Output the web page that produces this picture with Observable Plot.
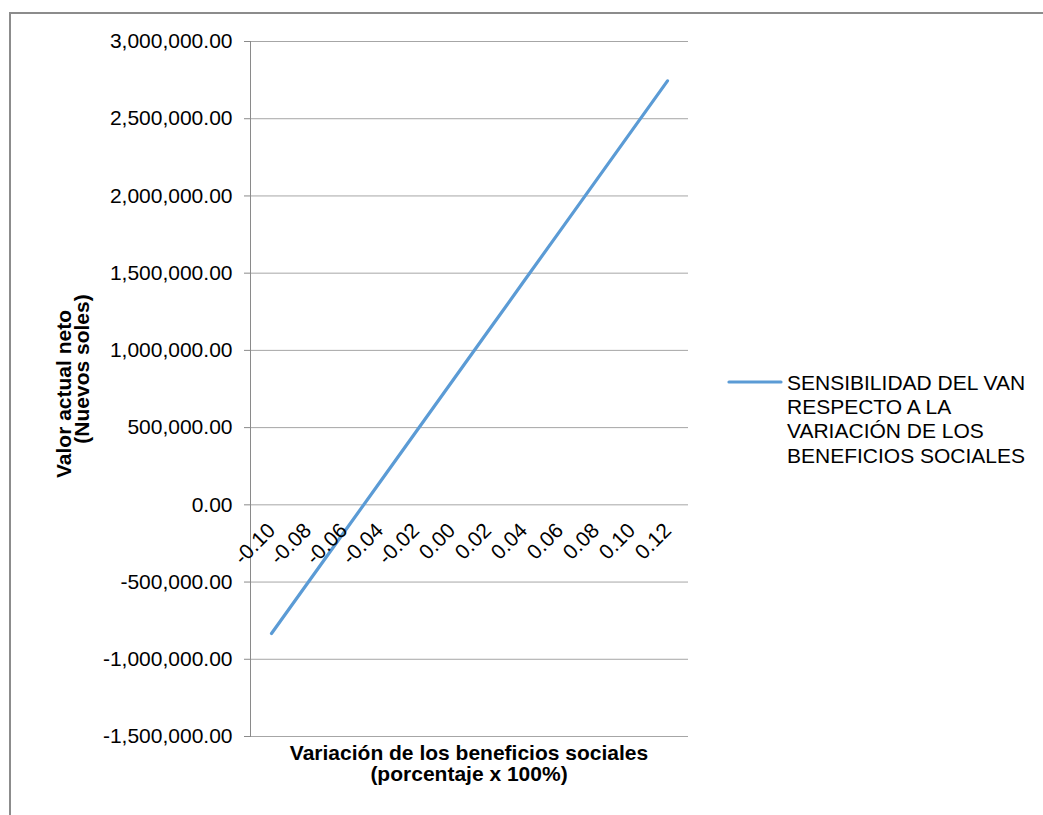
<!DOCTYPE html>
<html>
<head>
<meta charset="utf-8">
<script src="https://cdn.jsdelivr.net/npm/d3@7"></script>
<script src="https://cdn.jsdelivr.net/npm/@observablehq/plot@0.6"></script>
<style>
  html, body { margin: 0; padding: 0; background: #fff; }
  #chart { width: 1043px; height: 815px; overflow: hidden; }
</style>
</head>
<body>
<div id="chart"></div>
<script>
// Variación de los beneficios sociales (categories on the x axis)
const categories = ["-0.10", "-0.08", "-0.06", "-0.04", "-0.02", "0.00",
                    "0.02", "0.04", "0.06", "0.08", "0.10", "0.12"];
// VAN (Nuevos soles) for each variation
const van = [-833000, -507700, -182400, 142900, 468200, 793500,
             1118800, 1444100, 1769400, 2094700, 2420000, 2745300];
// Y axis tick values
const yTicks = [-1500000, -1000000, -500000, 0, 500000, 1000000,
                1500000, 2000000, 2500000, 3000000];

const seriesName = ["SENSIBILIDAD DEL VAN", "RESPECTO A LA",
                    "VARIACIÓN DE LOS", "BENEFICIOS SOCIALES"];
const xTitle = ["Variación de los beneficios sociales", "(porcentaje x 100%)"];
const yTitle = ["Valor actual neto", "(Nuevos soles)"];

const rows = categories.map((c, i) => ({cat: c, van: van[i]}));
const FONT = "'Liberation Sans', Arial, Helvetica, sans-serif";
const LINE = "#5b9bd5";
const fmt = d3.format(",.2f");
const yFormat = d => fmt(d).replace("\u2212", "-");

const chart = Plot.plot({
  width: 1043,
  height: 815,
  marginLeft: 250,
  marginRight: 355,
  marginTop: 41,
  marginBottom: 79,
  style: {fontFamily: FONT, fontSize: "21px", color: "#000", background: "#fff"},
  x: {type: "point", domain: categories, padding: 0.5, axis: null},
  y: {domain: [-1500000, 3000000], axis: null},
  marks: [
    Plot.gridY(yTicks, {stroke: "#a6a6a6", strokeOpacity: 1, strokeWidth: 1}),
    Plot.axisY(yTicks, {
      tickFormat: yFormat,
      tickSize: 6,
      tickPadding: 12,
      stroke: "#8a8a8a",
      fill: "#000",
      fontSize: 21,
      label: null
    }),
    Plot.frame({anchor: "left", stroke: "#8a8a8a"}),
    Plot.line(rows, {
      x: "cat", y: "van",
      stroke: LINE, strokeWidth: 3.2,
      strokeLinecap: "round", strokeLinejoin: "round"
    }),
    // category labels sit next to the zero line, rotated 45°
    Plot.text(categories, {
      x: d => d, y: () => 0,
      text: d => d,
      rotate: -45,
      textAnchor: "end",
      lineAnchor: "bottom",
      dx: 5, dy: 27,
      fontSize: 21,
      fill: "#000"
    })
  ]
});

document.getElementById("chart").appendChild(chart);

const svg = d3.select(chart);

// outer chart-area border
svg.append("rect")
  .attr("x", 10).attr("y", 13)
  .attr("width", 1200).attr("height", 1000)
  .attr("fill", "none").attr("stroke", "#8c8c8c").attr("stroke-width", 2);

// x-axis title
svg.append("g")
  .attr("font-family", FONT).attr("font-size", 21).attr("font-weight", "bold")
  .attr("text-anchor", "middle").attr("fill", "#000")
  .selectAll("text").data(xTitle).join("text")
  .attr("x", 469)
  .attr("y", (d, i) => 760 + i * 21)
  .text(d => d);

// y-axis title (rotated)
const yTitleCenters = [[71, 394], [88.5, 369]];
svg.append("g")
  .attr("font-family", FONT).attr("font-size", 21).attr("font-weight", "bold")
  .attr("text-anchor", "middle").attr("fill", "#000")
  .selectAll("text").data(yTitle).join("text")
  .attr("transform", (d, i) => `translate(${yTitleCenters[i][0]},${yTitleCenters[i][1]}) rotate(-90)`)
  .text(d => d);

// legend
const legend = svg.append("g");
legend.append("line")
  .attr("x1", 729).attr("x2", 781).attr("y1", 382).attr("y2", 382)
  .attr("stroke", LINE).attr("stroke-width", 3.2).attr("stroke-linecap", "round");
legend.append("g")
  .attr("font-family", FONT).attr("font-size", 21).attr("fill", "#000")
  .attr("text-anchor", "start")
  .selectAll("text").data(seriesName).join("text")
  .attr("x", 787)
  .attr("y", (d, i) => 390 + i * 24.2)
  .text(d => d);
</script>
</body>
</html>
